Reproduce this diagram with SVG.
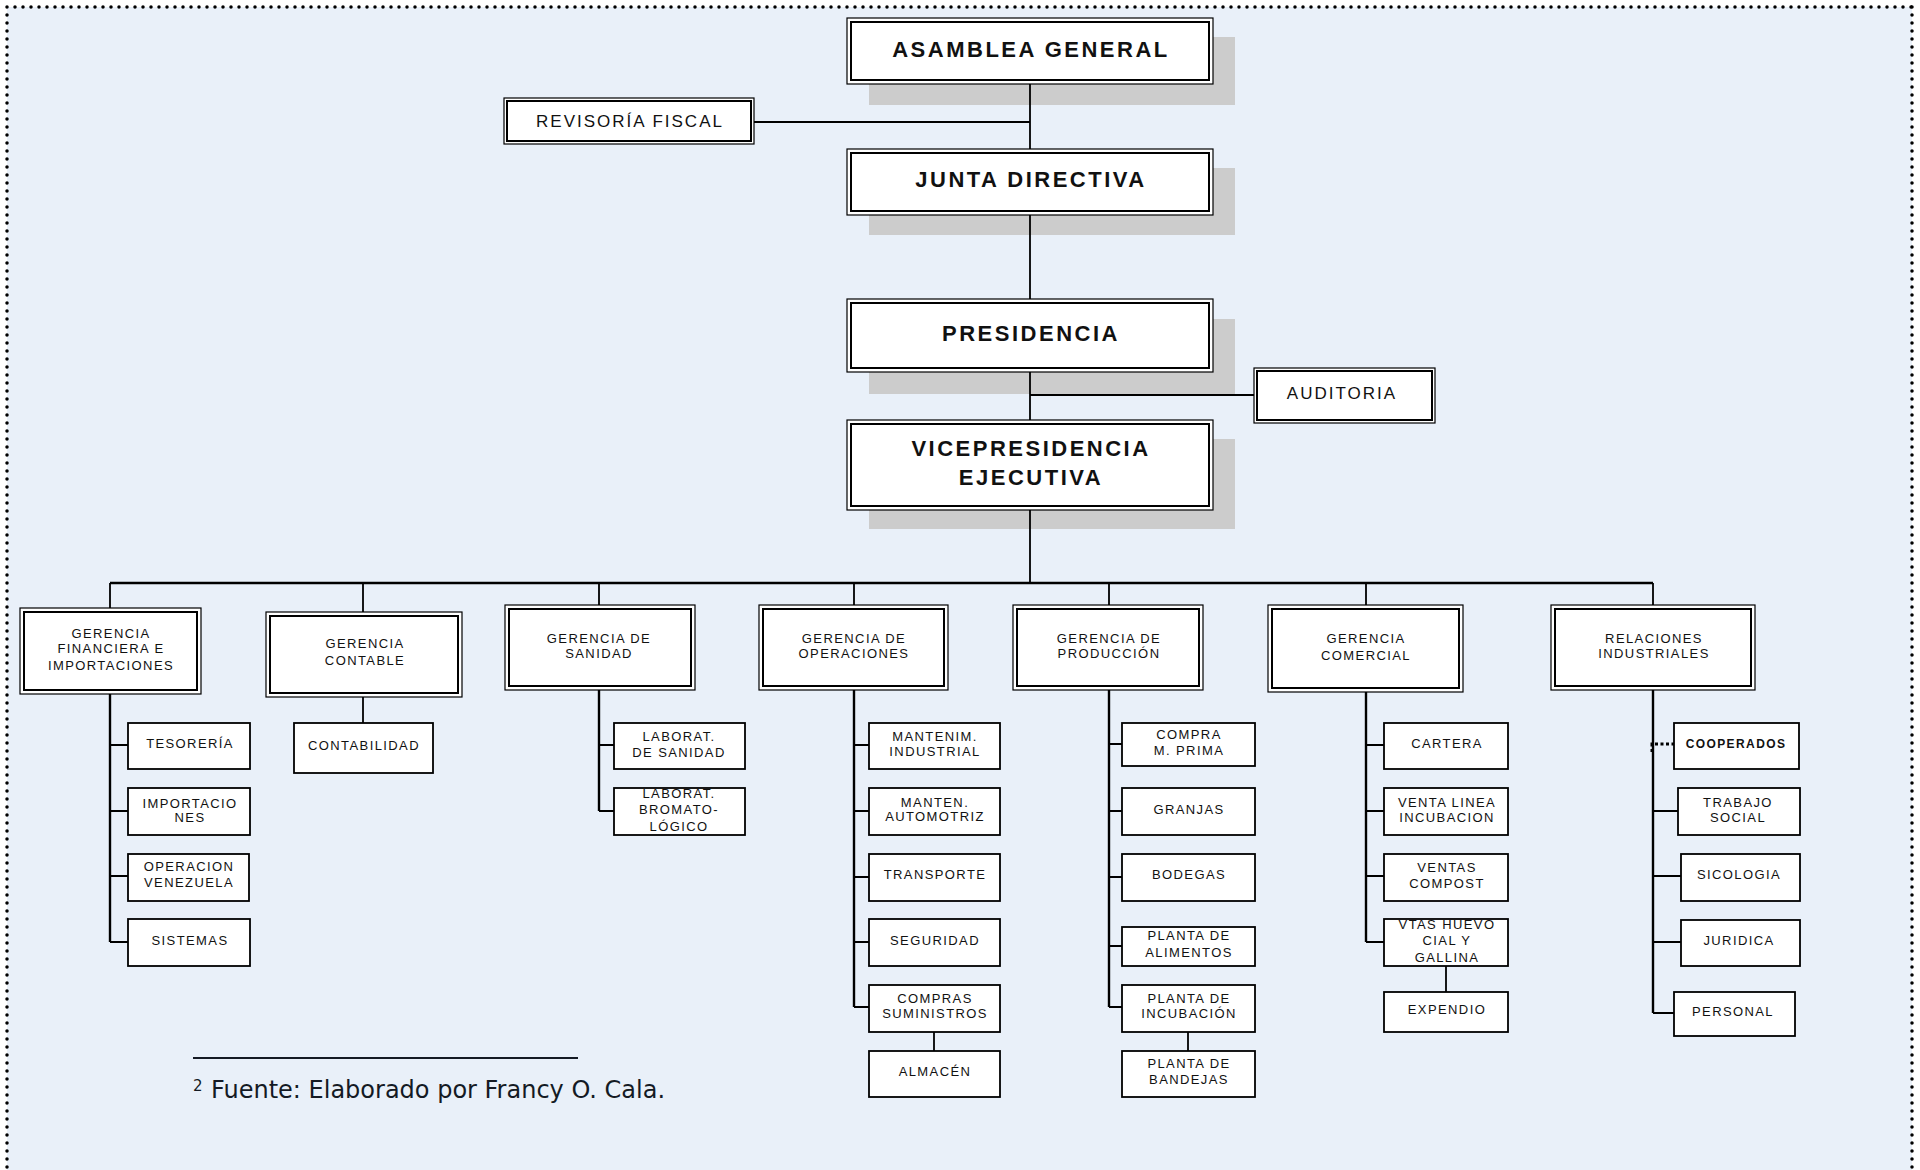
<svg xmlns="http://www.w3.org/2000/svg" width="1920" height="1170" viewBox="0 0 1920 1170">
<style>
.bg{fill:#E9F0F9}
.frame{fill:none;stroke:#000;stroke-width:3.5;stroke-linecap:round;stroke-dasharray:0 8}
.sh{fill:#CCCCCC}
.ob{fill:#fff;stroke:#000;stroke-width:1.2}
.ib{fill:none;stroke:#000;stroke-width:2}
.cb{fill:#fff;stroke:#000;stroke-width:1.8}
.ln{fill:none;stroke:#000;stroke-width:1.8}
.sp{fill:none;stroke:#000;stroke-width:2.4}
.dt{fill:none;stroke:#000;stroke-width:3;stroke-dasharray:3 2.5}
text{font-family:"Liberation Sans",Arial,sans-serif;fill:#111;text-anchor:middle}
.T{font-size:22px;font-weight:bold;letter-spacing:2.5px}
.M{font-size:17px;letter-spacing:2px}
.s{font-size:13px;letter-spacing:1.4px}
.sb{font-size:12px;font-weight:bold;letter-spacing:1.4px}
.fn{font-family:"DejaVu Sans",sans-serif;fill:#141a24;text-anchor:start}
</style>
<rect x="0" y="0" width="1920" height="1170" fill="#fff"/>
<rect class="bg" x="7" y="7" width="1905" height="1170"/>
<path class="frame" d="M7,7 H1912 M7,7 V1172 M1912,7 V1172"/>

<g id="shadows">
<rect class="sh" x="869" y="37" width="366" height="68"/>
<rect class="sh" x="869" y="168" width="366" height="67"/>
<rect class="sh" x="869" y="319" width="366" height="75"/>
<rect class="sh" x="869" y="439" width="366" height="90"/>
</g>

<g id="connectors">
<path class="ln" d="M1030,84 V149 M1030,215 V299 M1030,372 V420 M1030,510 V583"/>
<path class="ln" d="M754,122 H1030 M1030,395 H1254"/>
<path class="sp" d="M110,583 H1653"/>
<path class="ln" d="M110,583 V608 M363,583 V612 M599,583 V605 M854,583 V605 M1109,583 V605 M1366,583 V605 M1653,583 V605"/>
<path class="sp" d="M110,694 V942"/>
<path class="ln" d="M110,745 H128 M110,811 H128 M110,876 H128 M110,942 H128"/>
<path class="ln" d="M363,697 V723"/>
<path class="sp" d="M599,690 V811"/>
<path class="ln" d="M599,745 H614 M599,811 H614"/>
<path class="sp" d="M854,690 V1007"/>
<path class="ln" d="M854,745 H869 M854,811 H869 M854,877 H869 M854,942 H869 M854,1007 H869 M934,1032 V1051"/>
<path class="sp" d="M1109,690 V1007"/>
<path class="ln" d="M1109,744 H1122 M1109,811 H1122 M1109,877 H1122 M1109,946 H1122 M1109,1007 H1122 M1188,1032 V1051"/>
<path class="sp" d="M1366,692 V942"/>
<path class="ln" d="M1366,745 H1384 M1366,811 H1384 M1366,876 H1384 M1366,942 H1384 M1446,966 V992"/>
<path class="sp" d="M1653,690 V1013"/>
<path class="ln" d="M1653,811 H1678 M1653,876 H1681 M1653,942 H1681 M1653,1013 H1674"/>
<path class="dt" d="M1652,752 V744 H1674"/>
</g>

<g id="asamblea"><rect class="ob" x="847" y="18" width="366" height="66"/><rect class="ib" x="851" y="22" width="358" height="58"/><text class="T" x="1031" y="57">ASAMBLEA GENERAL</text></g>
<g id="revisoria"><rect class="ob" x="504" y="98" width="250" height="46"/><rect class="ib" x="507" y="101" width="244" height="40"/><text class="M" x="630" y="127">REVISORÍA FISCAL</text></g>
<g id="junta"><rect class="ob" x="847" y="149" width="366" height="66"/><rect class="ib" x="851" y="153" width="358" height="58"/><text class="T" x="1031" y="187">JUNTA DIRECTIVA</text></g>
<g id="presidencia"><rect class="ob" x="847" y="299" width="366" height="73"/><rect class="ib" x="851" y="303" width="358" height="65"/><text class="T" x="1031" y="341">PRESIDENCIA</text></g>
<g id="auditoria"><rect class="ob" x="1254" y="368" width="181" height="55"/><rect class="ib" x="1257" y="371" width="175" height="49"/><text class="M" x="1342" y="399">AUDITORIA</text></g>
<g id="vicepresidencia"><rect class="ob" x="847" y="420" width="366" height="90"/><rect class="ib" x="851" y="424" width="358" height="82"/><text class="T" x="1031" y="456">VICEPRESIDENCIA</text><text class="T" x="1031" y="485">EJECUTIVA</text></g>

<g id="g-financiera"><rect class="ob" x="20" y="608" width="181" height="86"/><rect class="ib" x="24" y="612" width="173" height="78"/><text class="s" x="111" y="638">GERENCIA</text><text class="s" x="111" y="653">FINANCIERA E</text><text class="s" x="111" y="670">IMPORTACIONES</text></g>
<g id="g-contable"><rect class="ob" x="266" y="612" width="196" height="85"/><rect class="ib" x="270" y="616" width="188" height="77"/><text class="s" x="365" y="648">GERENCIA</text><text class="s" x="365" y="665">CONTABLE</text></g>
<g id="g-sanidad"><rect class="ob" x="505" y="605" width="190" height="85"/><rect class="ib" x="509" y="609" width="182" height="77"/><text class="s" x="599" y="643">GERENCIA DE</text><text class="s" x="599" y="658">SANIDAD</text></g>
<g id="g-operaciones"><rect class="ob" x="759" y="605" width="189" height="85"/><rect class="ib" x="763" y="609" width="181" height="77"/><text class="s" x="854" y="643">GERENCIA DE</text><text class="s" x="854" y="658">OPERACIONES</text></g>
<g id="g-produccion"><rect class="ob" x="1013" y="605" width="190" height="85"/><rect class="ib" x="1017" y="609" width="182" height="77"/><text class="s" x="1109" y="643">GERENCIA DE</text><text class="s" x="1109" y="658">PRODUCCIÓN</text></g>
<g id="g-comercial"><rect class="ob" x="1268" y="605" width="195" height="87"/><rect class="ib" x="1272" y="609" width="187" height="79"/><text class="s" x="1366" y="643">GERENCIA</text><text class="s" x="1366" y="660">COMERCIAL</text></g>
<g id="g-relaciones"><rect class="ob" x="1551" y="605" width="204" height="85"/><rect class="ib" x="1555" y="609" width="196" height="77"/><text class="s" x="1654" y="643">RELACIONES</text><text class="s" x="1654" y="658">INDUSTRIALES</text></g>

<g id="tesoreria"><rect class="cb" x="128" y="723" width="122" height="46"/><text class="s" x="190" y="748">TESORERÍA</text></g>
<g id="importaciones"><rect class="cb" x="128" y="788" width="122" height="47"/><text class="s" x="190" y="808">IMPORTACIO</text><text class="s" x="190" y="822">NES</text></g>
<g id="op-venezuela"><rect class="cb" x="128" y="854" width="121" height="47"/><text class="s" x="189" y="871">OPERACION</text><text class="s" x="189" y="887">VENEZUELA</text></g>
<g id="sistemas"><rect class="cb" x="128" y="919" width="122" height="47"/><text class="s" x="190" y="945">SISTEMAS</text></g>
<g id="contabilidad"><rect class="cb" x="294" y="723" width="139" height="50"/><text class="s" x="364" y="750">CONTABILIDAD</text></g>
<g id="lab-sanidad"><rect class="cb" x="614" y="723" width="131" height="46"/><text class="s" x="679" y="741">LABORAT.</text><text class="s" x="679" y="757">DE SANIDAD</text></g>
<g id="lab-bromato"><rect class="cb" x="614" y="788" width="131" height="47"/><text class="s" x="679" y="798">LABORAT.</text><text class="s" x="679" y="814">BROMATO-</text><text class="s" x="679" y="831">LÓGICO</text></g>
<g id="mant-industrial"><rect class="cb" x="869" y="723" width="131" height="46"/><text class="s" x="935" y="741">MANTENIM.</text><text class="s" x="935" y="756">INDUSTRIAL</text></g>
<g id="mant-automotriz"><rect class="cb" x="869" y="788" width="131" height="47"/><text class="s" x="935" y="807">MANTEN.</text><text class="s" x="935" y="821">AUTOMOTRIZ</text></g>
<g id="transporte"><rect class="cb" x="869" y="854" width="131" height="47"/><text class="s" x="935" y="879">TRANSPORTE</text></g>
<g id="seguridad"><rect class="cb" x="869" y="919" width="131" height="47"/><text class="s" x="935" y="945">SEGURIDAD</text></g>
<g id="compras"><rect class="cb" x="869" y="985" width="131" height="47"/><text class="s" x="935" y="1003">COMPRAS</text><text class="s" x="935" y="1018">SUMINISTROS</text></g>
<g id="almacen"><rect class="cb" x="869" y="1051" width="131" height="46"/><text class="s" x="935" y="1076">ALMACÉN</text></g>
<g id="compra-mprima"><rect class="cb" x="1122" y="723" width="133" height="43"/><text class="s" x="1189" y="739">COMPRA</text><text class="s" x="1189" y="755">M. PRIMA</text></g>
<g id="granjas"><rect class="cb" x="1122" y="788" width="133" height="47"/><text class="s" x="1189" y="814">GRANJAS</text></g>
<g id="bodegas"><rect class="cb" x="1122" y="854" width="133" height="47"/><text class="s" x="1189" y="879">BODEGAS</text></g>
<g id="planta-alimentos"><rect class="cb" x="1122" y="927" width="133" height="39"/><text class="s" x="1189" y="940">PLANTA DE</text><text class="s" x="1189" y="957">ALIMENTOS</text></g>
<g id="planta-incubacion"><rect class="cb" x="1122" y="985" width="133" height="47"/><text class="s" x="1189" y="1003">PLANTA DE</text><text class="s" x="1189" y="1018">INCUBACIÓN</text></g>
<g id="planta-bandejas"><rect class="cb" x="1122" y="1051" width="133" height="46"/><text class="s" x="1189" y="1068">PLANTA DE</text><text class="s" x="1189" y="1084">BANDEJAS</text></g>
<g id="cartera"><rect class="cb" x="1384" y="723" width="124" height="46"/><text class="s" x="1447" y="748">CARTERA</text></g>
<g id="venta-linea"><rect class="cb" x="1384" y="788" width="124" height="47"/><text class="s" x="1447" y="807">VENTA LINEA</text><text class="s" x="1447" y="822">INCUBACION</text></g>
<g id="ventas-compost"><rect class="cb" x="1384" y="854" width="124" height="47"/><text class="s" x="1447" y="872">VENTAS</text><text class="s" x="1447" y="888">COMPOST</text></g>
<g id="vtas-huevo"><rect class="cb" x="1384" y="919" width="124" height="47"/><text class="s" x="1447" y="929">VTAS HUEVO</text><text class="s" x="1447" y="945">CIAL Y</text><text class="s" x="1447" y="962">GALLINA</text></g>
<g id="expendio"><rect class="cb" x="1384" y="992" width="124" height="40"/><text class="s" x="1447" y="1014">EXPENDIO</text></g>
<g id="cooperados"><rect class="cb" x="1674" y="723" width="125" height="46"/><text class="sb" x="1736" y="748">COOPERADOS</text></g>
<g id="trabajo-social"><rect class="cb" x="1678" y="788" width="122" height="47"/><text class="s" x="1738" y="807">TRABAJO</text><text class="s" x="1738" y="822">SOCIAL</text></g>
<g id="sicologia"><rect class="cb" x="1681" y="854" width="119" height="47"/><text class="s" x="1739" y="879">SICOLOGIA</text></g>
<g id="juridica"><rect class="cb" x="1681" y="920" width="119" height="46"/><text class="s" x="1739" y="945">JURIDICA</text></g>
<g id="personal"><rect class="cb" x="1674" y="992" width="121" height="44"/><text class="s" x="1733" y="1016">PERSONAL</text></g>

<g id="footnote">
<line x1="193" y1="1058" x2="578" y2="1058" stroke="#141a24" stroke-width="2"/>
<text class="fn" x="193" y="1091" font-size="15">2</text>
<text class="fn" x="211" y="1098" font-size="24">Fuente: Elaborado por Francy O. Cala.</text>
</g>
</svg>
